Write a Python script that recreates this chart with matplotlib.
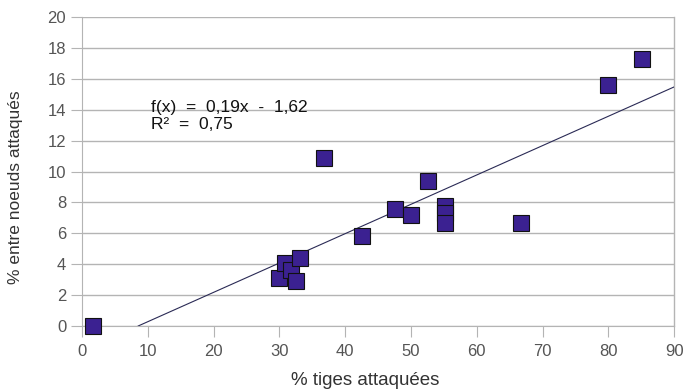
import numpy as np
import matplotlib.pyplot as plt

plt.rcParams['font.family'] = ['Liberation Sans', 'DejaVu Sans']

# donnees
tiges = [1.7, 29.9, 30.9, 31.8, 32.5, 33.1, 36.8, 42.6, 47.6, 50.0, 52.6, 55.2, 55.2, 55.2, 66.7, 79.9, 85.1]
noeuds = [0.0, 3.1, 4.1, 3.6, 2.9, 4.4, 10.9, 5.8, 7.6, 7.2, 9.4, 7.8, 7.3, 6.7, 6.7, 15.6, 17.3]
pente = 0.19
ordonnee = -1.62
r2 = 0.75

fig = plt.figure(figsize=(6.9, 3.89), dpi=100)
ax = fig.add_axes([0.119, 0.162, 0.858, 0.794])

ax.set_xlim(0, 90)
ax.set_ylim(0, 20)
ax.set_xticks(range(0, 91, 10))
ax.set_yticks(range(0, 21, 2))
ax.yaxis.grid(True, color='#b4b4b4', linewidth=1)
ax.set_axisbelow(True)

for s in ['top', 'right']:
    ax.spines[s].set_visible(False)
ax.spines['left'].set_color('#b4b4b4')
ax.spines['bottom'].set_color('#b4b4b4')
ax.plot([90, 90], [0, 20], color='#b4b4b4', linewidth=1, clip_on=False)
ax.tick_params(axis='both', colors='#b4b4b4', labelcolor='#555555', labelsize=12, length=8)
ax.tick_params(axis='x', pad=5)

# droite de tendance
x0 = -ordonnee / pente
xs = np.array([x0, 90])
ax.plot(xs, pente * xs + ordonnee, color='#2a2a55', linewidth=0.8)

ax.plot(tiges, noeuds, 's', markersize=11, markerfacecolor='#3b2191',
        markeredgecolor='#111111', markeredgewidth=0.8, clip_on=False, zorder=3)

eq = f'f(x)  =  {pente:.2f}x  -  {-ordonnee:.2f}\nR²  =  {r2:.2f}'.replace('.', ',')
ax.text(10.5, 13.6, eq, fontsize=12.5, color='#111111', va='center', linespacing=1.1)

ax.set_xlabel('% tiges attaquées', fontsize=13.5, color='#333333')
ax.set_ylabel('% entre noeuds attaqués', fontsize=12.5, color='#333333')
ax.xaxis.set_label_coords(0.478, -0.15)
ax.yaxis.set_label_coords(-0.1, 0.45)

fig.savefig('out.png', dpi=100)
